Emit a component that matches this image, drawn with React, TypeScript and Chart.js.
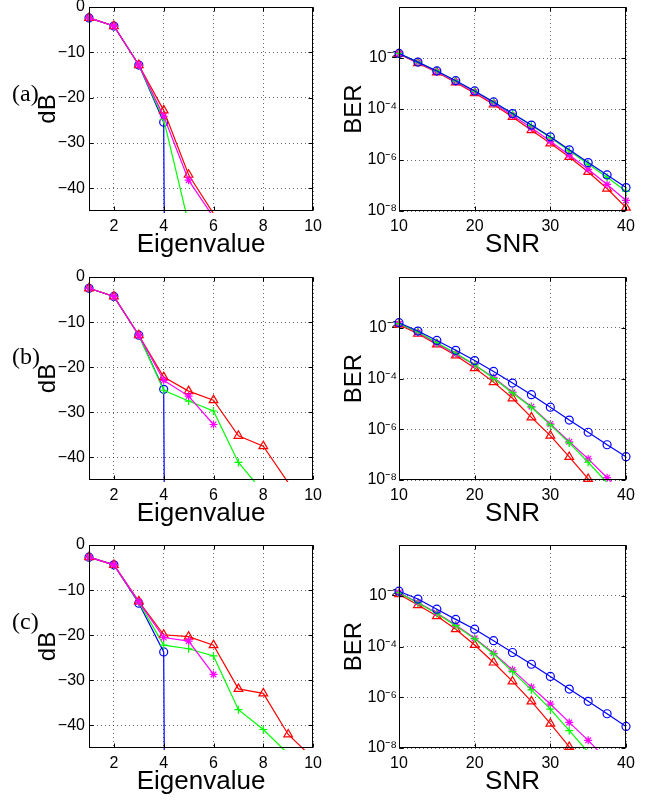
import React, { useEffect, useRef } from 'react';
import { Chart, registerables } from 'chart.js';

Chart.register(...registerables);

// ---------- axes / categories ----------
const eigenvalues = [1, 2, 3, 4, 5, 6, 7, 8, 9, 10];
const snrDb = [10, 12.5, 15, 17.5, 20, 22.5, 25, 27.5, 30, 32.5, 35, 37.5, 40];
const eigTicks = [2, 4, 6, 8, 10];
const dbTicks = [0, -10, -20, -30, -40];
const snrTicks = [10, 20, 30, 40];
const berTicks = [1e-8, 1e-6, 1e-4, 1e-2];

// ---------- (a) eigenvalue spectra (dB) ----------
const eigA_blue = [-2.4, -4.2, -12.8, -25.4, -1000, null, null, null, null, null];
const eigA_green = [-2.4, -4.2, -12.8, -24.8, -47.8, null, null, null, null, null];
const eigA_magenta = [-2.4, -4.2, -12.8, -24.1, -38.2, -46.4, null, null, null, null];
const eigA_red = [-2.4, -4.2, -12.8, -22.8, -37.0, -45.6, null, null, null, null];

// ---------- (b) eigenvalue spectra (dB) ----------
const eigB_blue = [-2.5, -4.3, -12.9, -24.9, -1000, null, null, null, null, null];
const eigB_green = [-2.5, -4.3, -12.9, -25.1, -27.5, -29.7, -41.1, -47.7, null, null];
const eigB_magenta = [-2.5, -4.3, -12.9, -22.9, -26.4, -32.7, null, null, null, null];
const eigB_red = [-2.5, -4.3, -12.9, -22.2, -25.3, -27.3, -35.2, -37.5, -45.6, null];

// ---------- (c) eigenvalue spectra (dB) ----------
const eigC_blue = [-2.7, -4.4, -12.9, -23.7, -1000, null, null, null, null, null];
const eigC_green = [-2.7, -4.4, -12.7, -22.2, -23.0, -24.6, -36.5, -40.9, -46.3, null];
const eigC_magenta = [-2.7, -4.4, -12.6, -20.5, -21.3, -28.7, null, null, null, null];
const eigC_red = [-2.7, -4.4, -12.5, -19.9, -20.3, -22.2, -31.9, -32.9, -42.0, -47.3];

// ---------- (a) BER vs SNR ----------
const berA_blue = [1.51e-2, 6.9e-3, 3.1e-3, 1.29e-3, 5.1e-4, 1.9e-4, 6.6e-5, 2.34e-5, 8.1e-6, 2.5e-6, 7.9e-7, 2.6e-7, 8.3e-8];
const berA_green = [1.51e-2, 6.9e-3, 3.1e-3, 1.26e-3, 5.0e-4, 1.86e-4, 6.5e-5, 2.24e-5, 7.6e-6, 2.3e-6, 6.9e-7, 2.1e-7, 6.0e-8];
const berA_magenta = [1.48e-2, 6.6e-3, 2.9e-3, 1.17e-3, 4.6e-4, 1.7e-4, 5.6e-5, 1.82e-5, 5.4e-6, 1.58e-6, 4.3e-7, 1.1e-7, 2.6e-8];
const berA_red = [1.45e-2, 6.3e-3, 2.75e-3, 1.1e-3, 4.2e-4, 1.5e-4, 4.9e-5, 1.48e-5, 4.5e-6, 1.32e-6, 3.4e-7, 7.6e-8, 1.35e-8];

// ---------- (b) BER vs SNR ----------
const berB_blue = [1.58e-2, 7.4e-3, 3.16e-3, 1.29e-3, 5.1e-4, 1.9e-4, 6.6e-5, 2.3e-5, 7.4e-6, 2.3e-6, 7.6e-7, 2.45e-7, 8.3e-8];
const berB_green = [1.45e-2, 6.8e-3, 2.57e-3, 9.8e-4, 3.5e-4, 1.02e-4, 2.7e-5, 7.4e-6, 1.48e-6, 2.9e-7, 5.0e-8, 7.8e-9, 1.3e-9];
const berB_magenta = [1.45e-2, 6.5e-3, 2.4e-3, 9.3e-4, 3.4e-4, 1.1e-4, 2.9e-5, 7.8e-6, 1.62e-6, 3.2e-7, 6.8e-8, 1.23e-8, 2.0e-9];
const berB_red = [1.32e-2, 5.8e-3, 2.2e-3, 8.1e-4, 2.57e-4, 7.2e-5, 1.66e-5, 2.95e-6, 5.6e-7, 8.1e-8, 1.1e-8, 1.3e-9, 1.6e-10];

// ---------- (c) BER vs SNR ----------
const berC_blue = [1.51e-2, 7.4e-3, 2.95e-3, 1.17e-3, 4.8e-4, 1.7e-4, 5.8e-5, 2.0e-5, 6.6e-6, 2.1e-6, 6.9e-7, 2.24e-7, 7.1e-8];
const berC_green = [1.32e-2, 5.2e-3, 2.0e-3, 6.6e-4, 2.0e-4, 5.1e-5, 1.02e-5, 1.95e-6, 3.4e-7, 4.8e-8, 6.9e-9, 1.0e-9, 1.6e-10];
const berC_magenta = [1.35e-2, 5.4e-3, 2.1e-3, 7.1e-4, 2.1e-4, 5.4e-5, 1.2e-5, 2.5e-6, 5.4e-7, 1.02e-7, 2.0e-8, 3.4e-9, 6.3e-10];
const berC_red = [1.15e-2, 4.3e-3, 1.58e-3, 4.8e-4, 1.15e-4, 2.34e-5, 4.2e-6, 6.9e-7, 9.1e-8, 1.1e-8, 1.3e-9, 1.6e-10, 2.0e-11];

// ---------- styling ----------
const FONT = "'Liberation Sans', Arial, Helvetica, sans-serif";
const RED = '#ff0000';
const GREEN = '#00ff00';
const BLUE = '#0000ff';
const MAGENTA = '#ff00ff';
const GRID = 'rgba(0,0,0,0.6)';

const SUP: Record<string, string> = {
  '-': '⁻', '0': '⁰', '1': '¹', '2': '²', '3': '³', '4': '⁴',
  '5': '⁵', '6': '⁶', '7': '⁷', '8': '⁸', '9': '⁹',
};
const pow10Label = (v: number) =>
  '10' + String(Math.round(Math.log10(v))).split('').map((c) => SUP[c] || c).join('');
const dbLabel = (v: number) => (v < 0 ? '\u2212' + Math.abs(v) : String(v));

const boxPlugin = {
  id: 'matlabBox',
  afterDraw(chart: any) {
    const { ctx, chartArea: a, scales } = chart;
    const l = Math.round(a.left) + 0.5;
    const t = Math.round(a.top) + 0.5;
    const r = Math.round(a.right) - 0.5;
    const b = Math.round(a.bottom) - 0.5;
    ctx.save();
    ctx.setLineDash([]);
    ctx.strokeStyle = '#000';
    ctx.lineWidth = 1;
    ctx.strokeRect(l, t, r - l, b - t);
    ctx.beginPath();
    const tl = 4;
    scales.x.ticks.forEach((tk: any) => {
      const px = Math.round(scales.x.getPixelForValue(tk.value)) + 0.5;
      ctx.moveTo(px, b); ctx.lineTo(px, b - tl);
      ctx.moveTo(px, t); ctx.lineTo(px, t + tl);
    });
    scales.y.ticks.forEach((tk: any) => {
      const py = Math.round(scales.y.getPixelForValue(tk.value)) + 0.5;
      ctx.moveTo(l, py); ctx.lineTo(l + tl, py);
      ctx.moveTo(r, py); ctx.lineTo(r - tl, py);
    });
    ctx.stroke();
    ctx.restore();
  },
};

type Series = { data: (number | null)[]; color: string; style: string; radius: number };

function buildConfig(kind: 'eig' | 'ber', series: Series[]) {
  const isEig = kind === 'eig';
  const xs = isEig ? eigenvalues : snrDb;
  const yMin = isEig ? -45 : 1e-8;
  const datasets = series.map((s) => ({
    data: xs.map((x, i) => ({ x, y: s.data[i] })),
    borderColor: s.color,
    backgroundColor: s.color,
    borderWidth: 1.2,
    pointStyle: s.style,
    pointBorderColor: s.color,
    pointBackgroundColor: 'rgba(0,0,0,0)',
    pointBorderWidth: 1.2,
    pointRadius: (c: any) => {
      const v = c.raw && c.raw.y;
      return v == null || v < yMin ? 0 : s.radius;
    },
    pointHoverRadius: 0,
    tension: 0,
    fill: false,
    spanGaps: false,
    clip: { left: 10, top: 10, right: 10, bottom: 2 },
  }));
  const tickFont = { family: FONT, size: 16, lineHeight: 1 };
  return {
    type: 'line',
    data: { datasets },
    plugins: [boxPlugin],
    options: {
      animation: false,
      responsive: false,
      devicePixelRatio: 1,
      events: [],
      layout: { padding: { left: 0, top: 20, right: isEig ? 14 : 30, bottom: 0 } },
      plugins: { legend: { display: false }, tooltip: { enabled: false }, title: { display: false } },
      scales: {
        x: {
          type: 'linear',
          min: isEig ? 1 : 10,
          max: isEig ? 10 : 40,
          afterBuildTicks: (s: any) => {
            s.ticks = (isEig ? eigTicks : snrTicks).map((v) => ({ value: v }));
          },
          afterFit: (s: any) => { s.height = 54; },
          ticks: { font: tickFont, color: '#000', padding: 8, maxRotation: 0, autoSkip: false },
          grid: { drawTicks: false, color: GRID, lineWidth: 1 },
          border: { display: false, dash: [1, 3] },
          title: {
            display: true,
            text: isEig ? 'Eigenvalue' : 'SNR',
            font: { family: FONT, size: 26, lineHeight: 1 },
            color: '#000',
            padding: { top: 0, bottom: 7 },
          },
        },
        y: {
          type: isEig ? 'linear' : 'logarithmic',
          min: yMin,
          max: isEig ? 0 : 1,
          afterBuildTicks: (s: any) => {
            s.ticks = (isEig ? dbTicks : berTicks).map((v) => ({ value: v }));
          },
          afterFit: (s: any) => { s.width = isEig ? 89 : 69; },
          ticks: {
            font: tickFont,
            color: '#000',
            padding: isEig ? 4 : 2,
            autoSkip: false,
            callback: (v: any) => (isEig ? dbLabel(Number(v)) : pow10Label(Number(v))),
          },
          grid: { drawTicks: false, color: GRID, lineWidth: 1 },
          border: { display: false, dash: [1, 3] },
          title: {
            display: true,
            text: isEig ? 'dB' : 'BER',
            font: { family: FONT, size: 24, lineHeight: 1 },
            color: '#000',
            padding: { top: isEig ? 36 : 12, bottom: 0 },
          },
        },
      },
    },
  };
}

function Panel(props: { left: number; top: number; width: number; height: number; kind: 'eig' | 'ber'; series: Series[] }) {
  const ref = useRef<HTMLCanvasElement>(null);
  useEffect(() => {
    const chart = new Chart(ref.current as HTMLCanvasElement, buildConfig(props.kind, props.series) as any);
    return () => chart.destroy();
  }, []);
  return (
    <canvas
      ref={ref}
      width={props.width}
      height={props.height}
      style={{ position: 'absolute', left: props.left, top: props.top, width: props.width, height: props.height, display: 'block' }}
    />
  );
}

const eigSeries = (blue: any[], green: any[], magenta: any[], red: any[]): Series[] => [
  { data: magenta, color: MAGENTA, style: 'star', radius: 4 },
  { data: red, color: RED, style: 'triangle', radius: 5 },
  { data: green, color: GREEN, style: 'cross', radius: 4 },
  { data: blue, color: BLUE, style: 'circle', radius: 4 },
];
const berSeries = (blue: any[], green: any[], magenta: any[], red: any[]): Series[] => [
  { data: blue, color: BLUE, style: 'circle', radius: 4 },
  { data: green, color: GREEN, style: 'cross', radius: 4 },
  { data: magenta, color: MAGENTA, style: 'star', radius: 4 },
  { data: red, color: RED, style: 'triangle', radius: 5 },
];

const rows = [
  { label: '(a)', canvasTop: -13, height: 278, labelTop: 81,
    eig: eigSeries(eigA_blue, eigA_green, eigA_magenta, eigA_red),
    ber: berSeries(berA_blue, berA_green, berA_magenta, berA_red) },
  { label: '(b)', canvasTop: 257, height: 277, labelTop: 344,
    eig: eigSeries(eigB_blue, eigB_green, eigB_magenta, eigB_red),
    ber: berSeries(berB_blue, berB_green, berB_magenta, berB_red) },
  { label: '(c)', canvasTop: 525, height: 277, labelTop: 609,
    eig: eigSeries(eigC_blue, eigC_green, eigC_magenta, eigC_red),
    ber: berSeries(berC_blue, berC_green, berC_magenta, berC_red) },
];

export default function App() {
  return (
    <div style={{ position: 'absolute', left: 0, top: 0, width: 656, height: 802, background: '#fff', overflow: 'hidden' }}>
      {rows.map((r) => (
        <React.Fragment key={r.label}>
          <Panel left={0} top={r.canvasTop} width={330} height={r.height} kind="eig" series={r.eig} />
          <Panel left={330} top={r.canvasTop} width={326} height={r.height} kind="ber" series={r.ber} />
          <span
            style={{
              position: 'absolute', left: 12, top: r.labelTop, fontFamily: "'Liberation Serif', 'Times New Roman', serif",
              fontSize: 24, lineHeight: '24px', color: '#000', whiteSpace: 'nowrap',
            }}
          >
            {r.label}
          </span>
        </React.Fragment>
      ))}
    </div>
  );
}
